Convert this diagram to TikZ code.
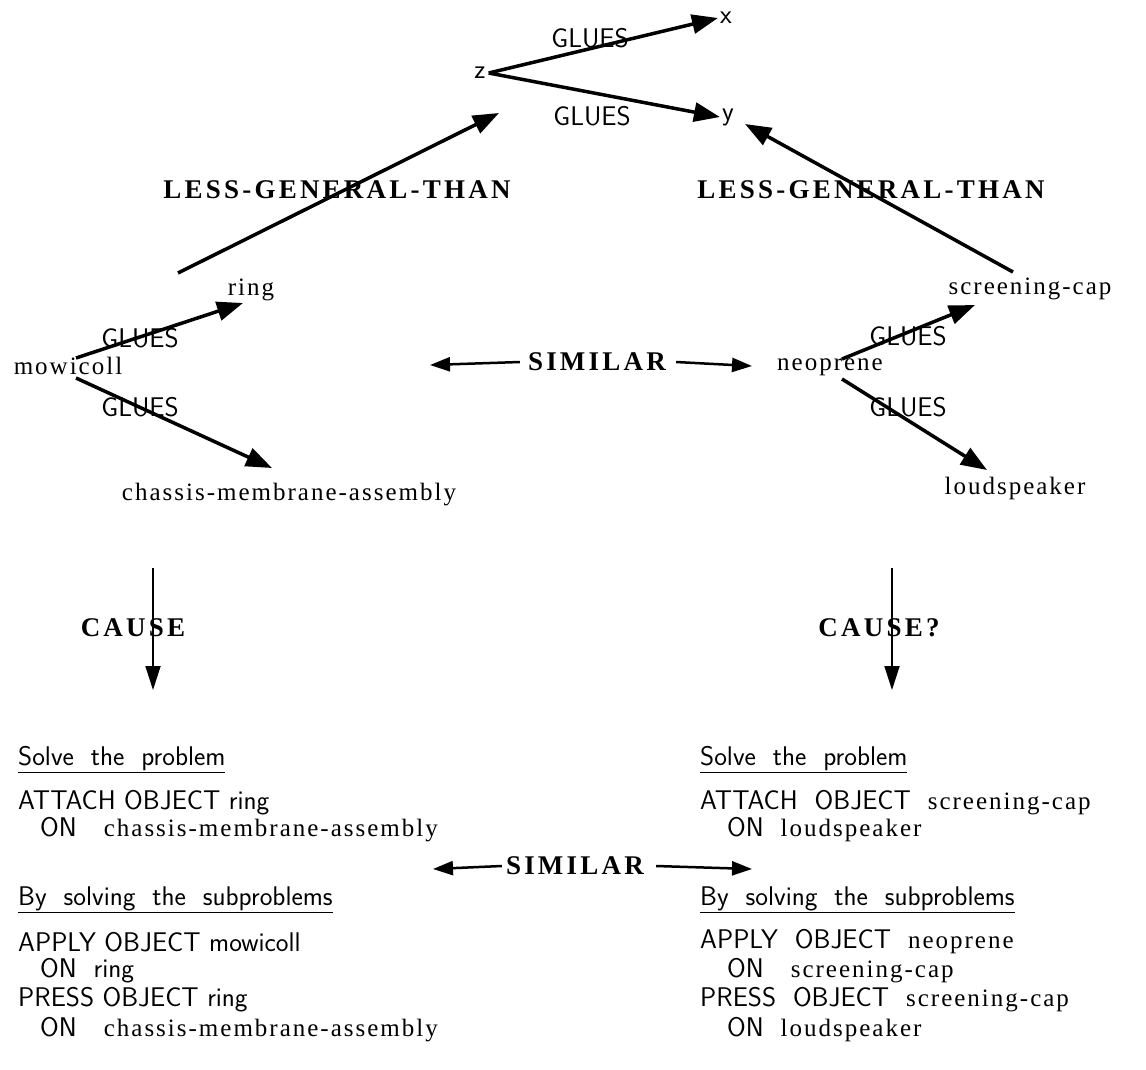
\documentclass[tikz,border=0pt]{standalone}
\usepackage{fontspec}
\usetikzlibrary{arrows.meta}
% object names: spaced serif
\newfontfamily\objfam{Liberation Serif}[LetterSpace=8]
% relations: spaced bold serif
\newfontfamily\relfam{Liberation Serif}[LetterSpace=12]
\newcommand{\objf}{\objfam\fontsize{25}{29}\selectfont}
\newcommand{\kwf}{\sffamily\fontsize{27}{31}\selectfont}
\newcommand{\relf}{\relfam\bfseries\fontsize{27}{31}\selectfont}
% underlined heading
\newcommand{\heading}[1]{\underline{#1}}

\begin{document}
\begin{tikzpicture}[x=1pt,y=-1pt,
	every node/.style={inner sep=0pt},
	arr/.style={line width=3.5pt,-{Triangle[length=26pt,width=19pt]}},
	simarr/.style={line width=2.5pt,-{Triangle[length=20pt,width=14pt]}},
	causearr/.style={line width=1.8pt,-{Triangle[length=24pt,width=15pt]}},
	obj/.style={font=\objf},
	lbl/.style={font=\kwf},
	rel/.style={font=\relf},
	line/.style={font=\kwf,anchor=west}]
	\useasboundingbox (0,0) rectangle (1146,1069);
	% general case: z glues x and y
	\node[lbl] (z) at (480,73) {z};
	\node[lbl] (x) at (726,18) {x};
	\node[lbl] (y) at (728,117) {y};
	\node[lbl] (gzx) at (590,38) {GLUES};
	\node[lbl] (gzy) at (592,116) {GLUES};
	\draw[arr] ([xshift=3pt]z.east) -- ([xshift=-2pt]x.west);
	\draw[arr] ([xshift=3pt]z.east) -- ([xshift=-2pt]y.west);
	% left case
	\node[obj] (ring) at (251,290) {ring};
	\node[obj] (mow) at (68,366) {mowicoll};
	\node[obj] (chassis) at (289,495) {chassis-membrane-assembly};
	\node[lbl] (gl1) at (140,338) {GLUES};
	\node[lbl] (gl2) at (140,407) {GLUES};
	\draw[arr] ([xshift=8pt,yshift=8pt]mow.center) -- ([xshift=-8pt,yshift=-13pt]ring.center);
	\draw[arr] ([xshift=8pt,yshift=-12pt]mow.center) -- ([xshift=-17pt,yshift=27pt]chassis.center);
	% right case
	\node[obj] (scap) at (1030,289) {screening-cap};
	\node[obj] (neo) at (830,367) {neoprene};
	\node[obj] (louds) at (1015,488) {loudspeaker};
	\node[lbl] (gr1) at (908,336) {GLUES};
	\node[lbl] (gr2) at (908,407) {GLUES};
	\draw[arr] ([xshift=12pt,yshift=8pt]neo.center) -- ([xshift=-55pt,yshift=-16pt]scap.center);
	\draw[arr] ([xshift=12pt,yshift=-12pt]neo.center) -- ([xshift=-28pt,yshift=18pt]louds.center);
	% less general than
	\node[rel] (lgl) at (337,190) {LESS-GENERAL-THAN};
	\node[rel] (lgr) at (871,190) {LESS-GENERAL-THAN};
	\draw[arr] ([xshift=-73pt,yshift=17pt]ring.center) -- ([xshift=19pt,yshift=-40pt]z.center);
	\draw[arr] ([xshift=-17pt,yshift=17pt]scap.center) -- ([xshift=17pt,yshift=-7pt]y.center);
	% similar (objects)
	\node[rel] (sim1) at (597,362) {SIMILAR};
	\coordinate (sim1l) at (430,365);
	\coordinate (sim1r) at (752,366);
	\draw[simarr] ([xshift=-8pt]sim1.west) -- (sim1l);
	\draw[simarr] ([xshift=10pt]sim1.east) -- (sim1r);
	% cause
	\node[rel] (cause1) at (133,628) {CAUSE};
	\node[rel] (cause2) at (879,628) {CAUSE?};
	\coordinate (c1a) at (153,568);
	\coordinate (c1b) at (153,690);
	\coordinate (c2a) at (892,568);
	\coordinate (c2b) at (892,690);
	\draw[causearr] (c1a) -- (c1b);
	\draw[causearr] (c2a) -- (c2b);
	% left plan
	\node[line] (sol1) at (18,760) {\heading{Solve\ \ the\ \ problem}};
	\node[line] (att1) at (18,803) {ATTACH OBJECT ring};
	\node[line] (on1) at (40,830) {ON\quad{\objf chassis-membrane-assembly}};
	\node[line] (by1) at (18,900) {\heading{By\ \ solving\ \ the\ \ subproblems}};
	\node[line] (app1) at (18,942) {APPLY OBJECT mowicoll};
	\node[line] (on2) at (40,971) {ON\ \ ring};
	\node[line] (pr1) at (18,1000) {PRESS OBJECT ring};
	\node[line] (on3) at (40,1030) {ON\quad{\objf chassis-membrane-assembly}};
	% right plan
	\node[line] (sol2) at (700,760) {\heading{Solve\ \ the\ \ problem}};
	\node[line] (att2) at (700,803) {ATTACH\ \ OBJECT\ \ {\objf screening-cap}};
	\node[line] (on4) at (727,830) {ON\ \ {\objf loudspeaker}};
	\node[line] (by2) at (700,900) {\heading{By\ \ solving\ \ the\ \ subproblems}};
	\node[line] (app2) at (700,942) {APPLY\ \ OBJECT\ \ {\objf neoprene}};
	\node[line] (on5) at (727,971) {ON\quad{\objf screening-cap}};
	\node[line] (pr2) at (700,1000) {PRESS\ \ OBJECT\ \ {\objf screening-cap}};
	\node[line] (on6) at (727,1030) {ON\ \ {\objf loudspeaker}};
	% similar (plans)
	\node[rel] (sim2) at (575,866) {SIMILAR};
	\coordinate (sim2l) at (433,869);
	\coordinate (sim2r) at (752,869);
	\draw[simarr] ([xshift=-4pt]sim2.west) -- (sim2l);
	\draw[simarr] ([xshift=12pt]sim2.east) -- (sim2r);
\end{tikzpicture}
\end{document}
